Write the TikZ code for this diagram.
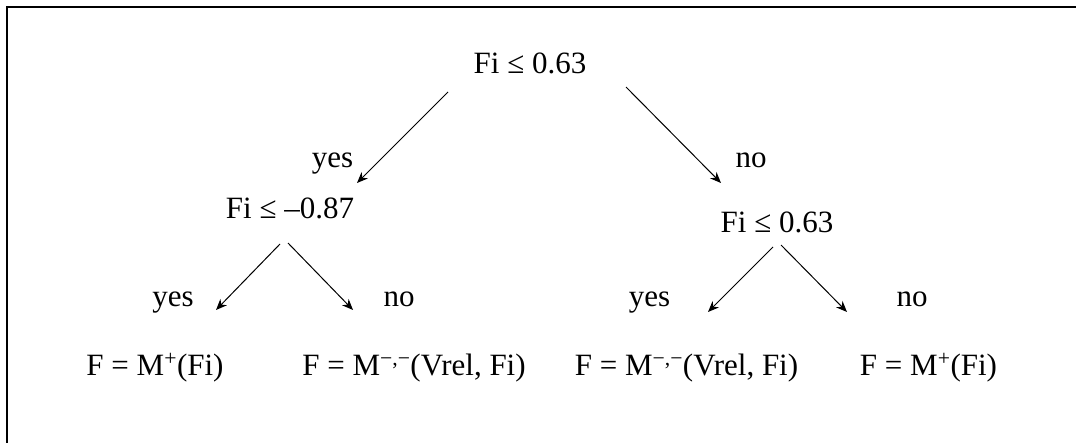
\documentclass[tikz,border=0pt]{standalone}
\usepackage{fontspec}
\setmainfont{Liberation Serif}
\usetikzlibrary{arrows.meta}
\begin{document}
\begin{tikzpicture}[x=1pt,y=-1pt,
  lbl/.style={anchor=base,inner sep=0pt,font=\fontsize{31}{36}\selectfont},
  branch/.style={line width=1pt,-{Stealth[length=11pt,width=9pt,inset=3.5pt]}},
  frame/.style={line width=2pt}]
\useasboundingbox (0,0) rectangle (1076,443);
% open frame along the left and top edges
\coordinate (fb) at (7,443);
\coordinate (fc) at (7,7.5);
\coordinate (fr) at (1076,7.5);
\draw[frame] (fb) -- (fc) -- (fr);

% tests
\node[lbl] (root) at (530,74) {Fi ≤ 0.63};
\node[lbl] (testL) at (290,219) {Fi ≤ –0.87};
\node[lbl] (testR) at (777,233) {Fi ≤ 0.63};

% branch labels
\node[lbl] (yesA) at (332.5,168) {yes};
\node[lbl] (noA) at (751,168) {no};
\node[lbl] (yesB) at (173,307) {yes};
\node[lbl] (noB) at (399,307) {no};
\node[lbl] (yesC) at (649.5,307) {yes};
\node[lbl] (noC) at (912,307) {no};

% leaf models
\node[lbl] (leaf1) at (155,375) {F = M\textsuperscript{+}(Fi)};
\node[lbl] (leaf2) at (414,375) {F = M\textsuperscript{−,−}(Vrel, Fi)};
\node[lbl] (leaf3) at (686.5,375) {F = M\textsuperscript{−,−}(Vrel, Fi)};
\node[lbl] (leaf4) at (928.5,375) {F = M\textsuperscript{+}(Fi)};

% arrow end points
\coordinate (r1) at (448,92);   \coordinate (r1e) at (357,183);
\coordinate (r2) at (626,87);   \coordinate (r2e) at (721,183);
\coordinate (l1) at (280,244);  \coordinate (l1e) at (216,310);
\coordinate (l2) at (288,243);  \coordinate (l2e) at (353,310);
\coordinate (m1) at (773,247);  \coordinate (m1e) at (708,312);
\coordinate (m2) at (781,245);  \coordinate (m2e) at (847,312);

\draw[branch] (r1) -- (r1e);
\draw[branch] (r2) -- (r2e);
\draw[branch] (l1) -- (l1e);
\draw[branch] (l2) -- (l2e);
\draw[branch] (m1) -- (m1e);
\draw[branch] (m2) -- (m2e);
\end{tikzpicture}
\end{document}
